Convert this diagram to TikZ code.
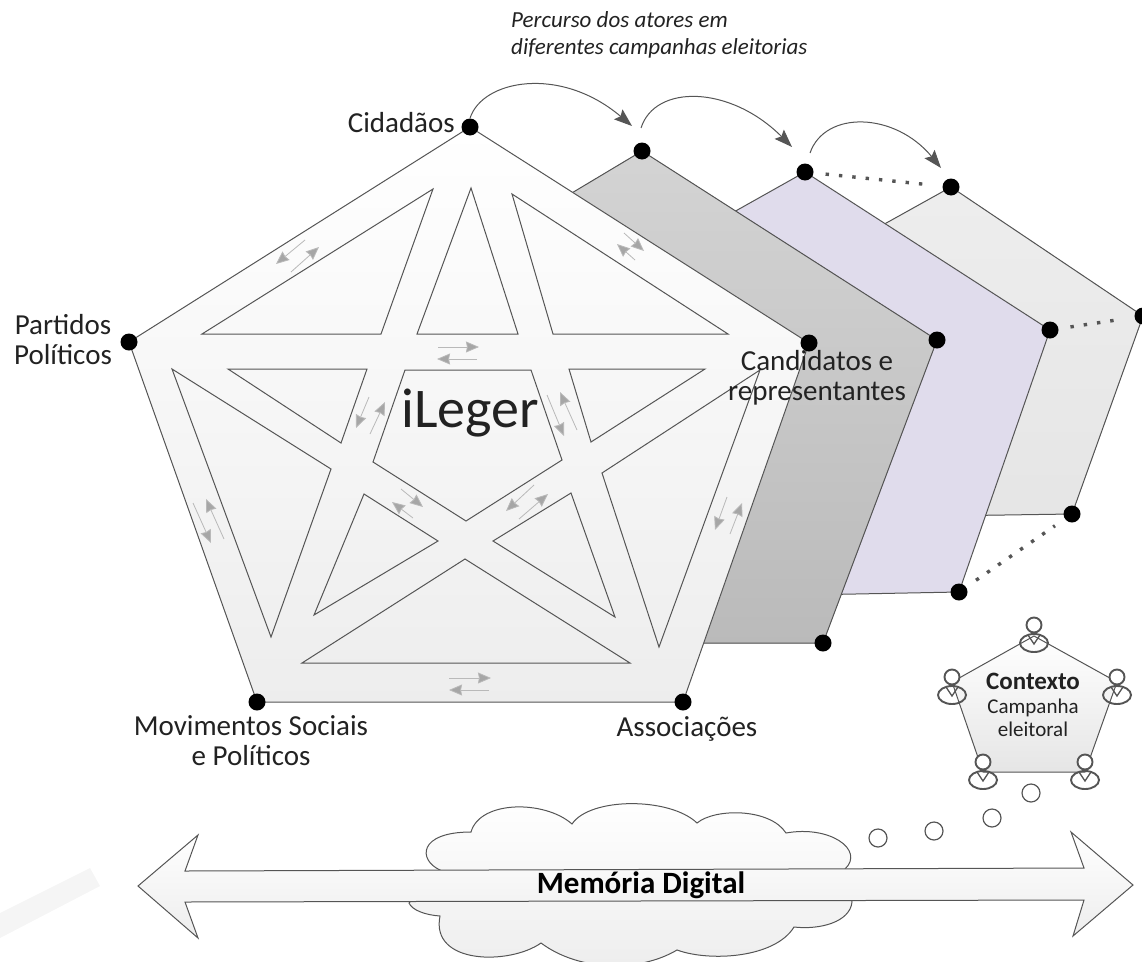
\documentclass[tikz,border=0pt]{standalone}
\usepackage{fontspec}
\setmainfont{Carlito}
\usetikzlibrary{arrows.meta}
\definecolor{edge}{HTML}{555555}
\definecolor{ink}{HTML}{222222}
\definecolor{lilac}{HTML}{E0DCEC}
\tikzset{
    face/.style={draw=edge, line width=1pt, fill=white},
    sheet/.style={draw=edge, line width=1pt},
    dot/.style={circle, fill=black, minimum size=17pt, inner sep=0pt},
    label/.style={text=ink, align=center, inner sep=0pt, font=\fontsize{29}{30}\selectfont},
    flow/.style={draw=gray!55, line width=0.8pt, -{Stealth[length=13pt,width=11pt,inset=1pt,fill=gray!70]}},
    hop/.style={draw=edge, line width=1pt, -{Stealth[length=18pt,width=13pt,inset=3pt]}},
    trail/.style={draw=edge, line width=3.4pt, dash pattern=on 3.4pt off 10pt, shorten >=12pt, shorten <=12pt},
    person/.pic={
        \draw[edge, line width=1.9pt] (0,0) ellipse (14pt and 9pt);
        \draw[edge, line width=1.9pt, fill=white] (0,-18) circle (7.5pt);
        \draw[edge, line width=1.3pt] (-6,-8) -- (0,1) -- (6,-8);
    }
}
\begin{document}
\begin{tikzpicture}[x=1pt, y=-1pt]
    \useasboundingbox (0,0) rectangle (1142,961);

    % faint band, bottom left
    \fill[black!4] (0,913) -- (90,868) -- (100,886) -- (0,938) -- cycle;

    % sheets behind the pentagon
    \filldraw[sheet, top color=black!7, bottom color=black!10] (951,187) -- (1143,316) -- (1072,514) -- (800,518) -- (800,271) -- cycle;
    \filldraw[sheet, fill=lilac] (805,172) -- (1050,330) -- (959,592) -- (700,597) -- (700,231) -- cycle;
    \filldraw[sheet, top color=black!17, bottom color=black!27] (642,151) -- (937,340) -- (823,643) -- (600,643) -- (520,224) -- cycle;

    % main pentagon
    \filldraw[face, top color=white, bottom color=black!7] (470,127) -- (809,343) -- (683,702) -- (257,702) -- (129,342) -- cycle;

    % star: the holes between the bands
    \foreach \tri in {
        {(433,189) -- (202,334) -- (381,334)},
        {(471,188) -- (417,334) -- (518,334)},
        {(512,194) -- (728,334) -- (553,334)},
        {(228,369) -- (367,369) -- (341,443)},
        {(569,369) -- (705,369) -- (591,442)},
        {(172,369) -- (331,469) -- (271,637)},
        {(364,494) -- (438,541) -- (314,615)},
        {(571,493) -- (493,541) -- (615,617)},
        {(760,370) -- (602,473) -- (659,647)},
        {(465,559) -- (302,663) -- (630,663)},
        {(405,370) -- (531,370) -- (562,460) -- (466,521) -- (373,462)}}
        \draw[edge, line width=1pt] \tri -- cycle;

    % arrow pairs on the bands
    \foreach \a/\b in {
        {438,347}/{479,347}, {477,359}/{437,359},
        {449,678}/{491,678}, {489,690}/{449,690},
        {305,240}/{276,264}, {291,272}/{319,247},
        {369,397}/{356,428}, {370,434}/{385,402},
        {577,430}/{560,392}, {547,395}/{564,436},
        {401,489}/{423,507}, {413,518}/{392,502},
        {534,485}/{506,511}, {519,519}/{548,494},
        {193,503}/{211,543}, {224,539}/{206,499},
        {727,497}/{715,530}, {730,534}/{742,503},
        {624,233}/{644,251}, {635,260}/{617,244}}
        \draw[flow] (\a) -- (\b);

    % vertices
    \foreach \n/\p in {cid/{470,127}, can/{809,343}, ass/{683,702}, mov/{257,702}, par/{129,342},
        gtop/{642,151}, gmid/{937,340}, gbot/{823,643},
        vtop/{805,172}, vmid/{1050,330}, vbot/{959,592},
        ltop/{951,187}, lmid/{1143,316}, lbot/{1072,514}}
        \node[dot] (\n) at (\p) {};

    \draw[trail] (vtop) -- (ltop);
    \draw[trail] (vmid) -- (lmid);
    \draw[trail] (vbot) -- (lbot);

    % course of the actors
    \coordinate (h1) at (632,126);
    \coordinate (h2a) at (641,128);
    \coordinate (h2) at (792,147);
    \coordinate (h3a) at (810,153);
    \coordinate (h3) at (941,168);
    \draw[hop] (cid.north) .. controls (482,80) and (560,65) .. (h1);
    \draw[hop] (h2a) .. controls (655,84) and (730,85) .. (h2);
    \draw[hop] (h3a) .. controls (825,110) and (895,112) .. (h3);

    % labels
    \node[label, anchor=east] (lcid) at (455,123) {Cidadãos};
    \node[label] (lpar) at (63,340) {Partidos\\Políticos};
    \node[label] (lcan) at (817,378) {Candidatos e\\representantes};
    \node[label] (lmov) at (251,741) {Movimentos Sociais\\e Políticos};
    \node[label] (lass) at (687,729) {Associações};
    \node[text=ink, inner sep=0pt, font=\fontsize{56}{60}\selectfont] (lleg) at (470,413) {iLeger};
    \node[text=ink, align=left, anchor=north west, inner sep=0pt, font=\itshape\fontsize{23}{27}\selectfont] (ltit) at (511,11) {Percurso dos atores em\\diferentes campanhas eleitorias};

    % context pentagon
    \filldraw[face, top color=white, bottom color=black!10] (1034,636) -- (1117,682) -- (1085,772) -- (983,772) -- (952,682) -- cycle;
    \foreach \p in {{1034,643},{952,695},{1117,695},{983,780},{1085,780}}
        \pic at (\p) {person};
    \node[text=ink, align=center, inner sep=0pt, font=\fontsize{21}{23.5}\selectfont] (lctx) at (1033,705)
        {\textbf{\fontsize{25}{23.5}\selectfont Contexto}\\Campanha\\eleitoral};

    % thought bubbles
    \foreach \p in {{1031,793},{992,818},{934,831},{878,838}}
        \draw[edge, line width=1.2pt, fill=white] (\p) circle (9pt);

    % cloud and memory arrow
    \filldraw[face, top color=white, bottom color=black!7] (440,870)
        .. controls (418,860) and (418,832) .. (471,832)
        .. controls (480,800) and (545,800) .. (572,824)
        .. controls (590,797) and (670,797) .. (697,823)
        .. controls (715,808) and (770,808) .. (786,833)
        .. controls (830,825) and (865,850) .. (845,869)
        -- (852,902)
        .. controls (850,922) and (820,930) .. (794,927)
        .. controls (775,958) and (710,962) .. (677,950)
        .. controls (640,972) and (580,972) .. (541,943)
        .. controls (510,965) and (430,965) .. (440,916)
        .. controls (425,915) and (412,910) .. (409,903) -- cycle;
    \filldraw[face, top color=white, bottom color=black!7] (138,886) -- (198,835) -- (185,871) -- (1084,868) -- (1071,832)
        -- (1133,885) -- (1073,936) -- (1084,900) -- (185,902) -- (198,938) -- cycle;
    \node[inner sep=0pt, font=\bfseries\fontsize{31}{34}\selectfont] (lmem) at (641,885) {Memória Digital};
\end{tikzpicture}
\end{document}
